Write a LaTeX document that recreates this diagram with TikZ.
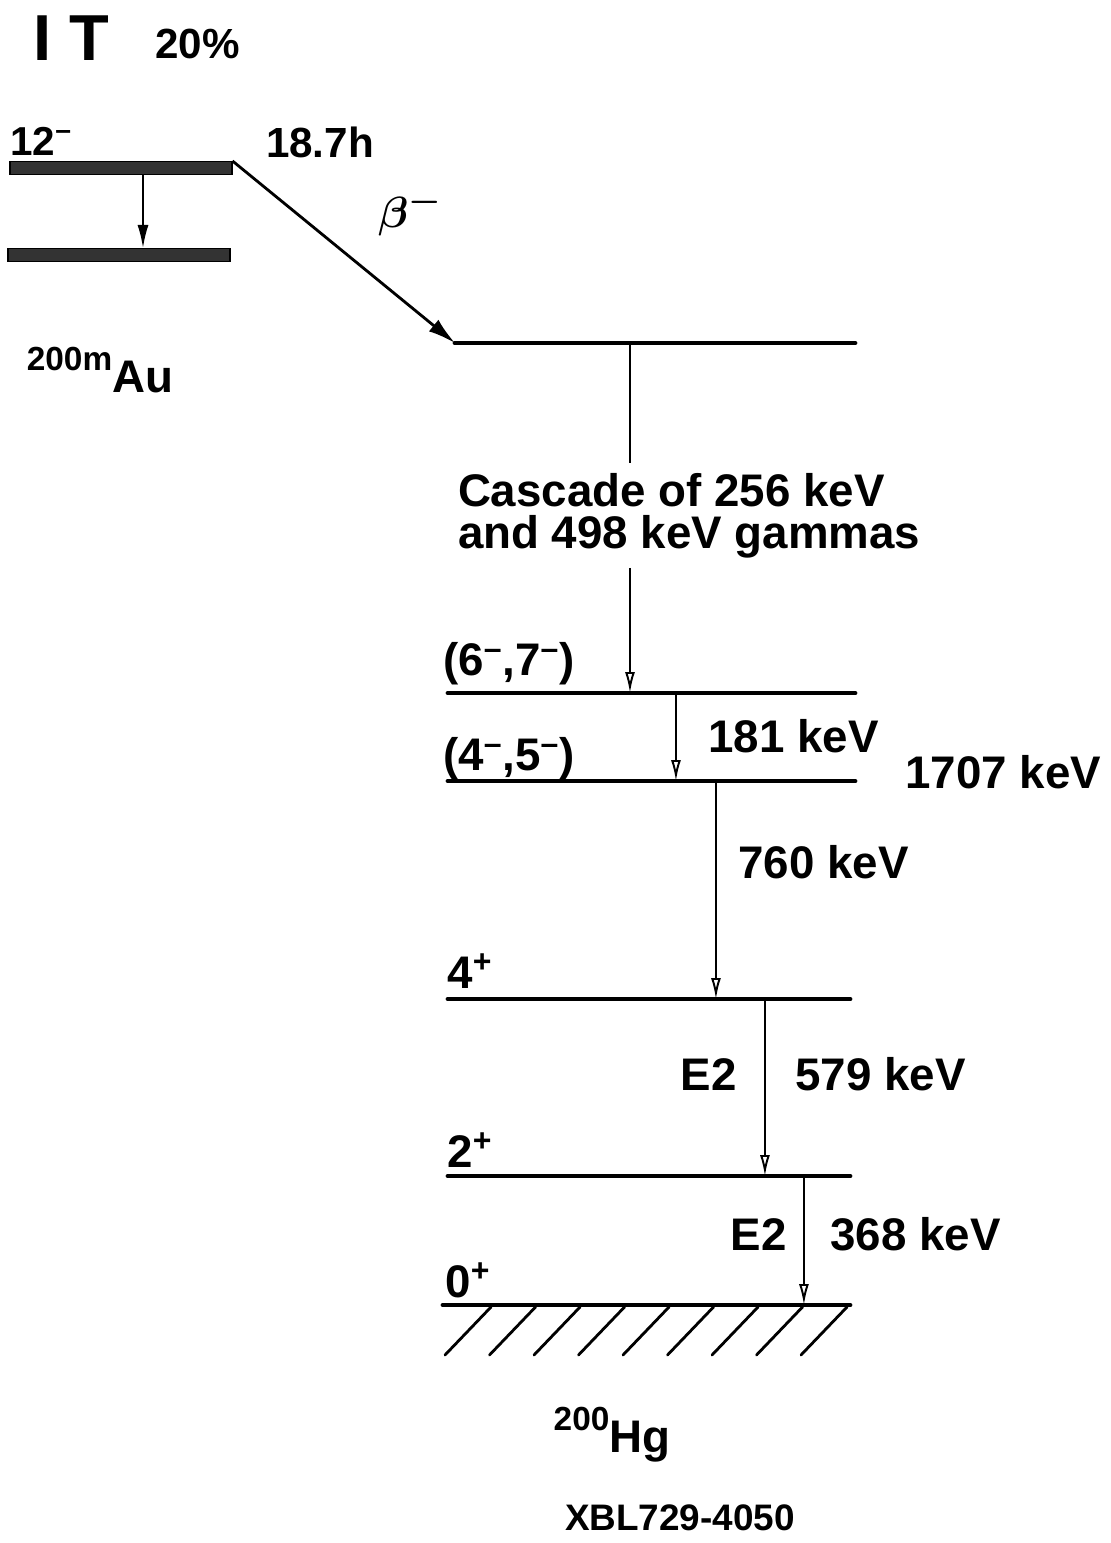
\documentclass[tikz,border=0pt]{standalone}
\usepackage{bm}
\usepackage{fontspec}
\setmainfont{Liberation Sans}
\usetikzlibrary{arrows.meta}

\begin{document}
\begin{tikzpicture}[x=0.02cm, y=-0.02cm,
      lev/.style={line width=2.8pt, line cap=round},
      aubar/.style={draw=black, fill=black!80, line width=0.6pt,
                    minimum width=4.44cm, minimum height=0.26cm, inner sep=0pt},
      gam/.style={line width=1.1pt, -{Latex[open, length=0.42cm, width=0.2cm]}},
      gamf/.style={line width=1.1pt, -{Latex[length=0.46cm, width=0.22cm]}},
      beta/.style={line width=1.6pt, -{Latex[length=0.55cm, width=0.3cm]}},
      hatch/.style={line width=1.6pt, line cap=round},
      lab/.style={font=\fontsize{26}{28}\selectfont\bfseries, inner sep=0pt},
      casc/.style={font=\fontsize{26}{24}\selectfont\bfseries, align=left, inner sep=5.5pt},
      small/.style={font=\fontsize{21}{24}\selectfont\bfseries, inner sep=0pt}
    ]
    \useasboundingbox (0,0) rectangle (1111,1543);
    % 200mAu side
    \node[lab, anchor=base west, font=\fontsize{37}{38}\selectfont\bfseries] (it) at (33,60) {I T};
    \node[lab, anchor=base west, font=\fontsize{24}{26}\selectfont\bfseries] (itpct) at (155,58) {20\%};
    \node[lab, anchor=base west, font=\fontsize{23}{26}\selectfont\bfseries] (spin12) at (10,155) {12\textsuperscript{–}};
    \node[lab, anchor=base, font=\fontsize{24}{26}\selectfont\bfseries] (halflife) at (320,157) {18.7h};
    \node[aubar] (au12) at (121,168) {};
    \node[aubar] (augs) at (119,255) {};
    \node[lab, anchor=base] (auname) at (100,392)
      {\raisebox{12pt}{\fontsize{19}{20}\selectfont\bfseries 200m}Au};
    \draw[gamf] ([xshift=0.44cm]au12.south) -- ([xshift=0.48cm]augs.north);
    % 200Hg levels
    \coordinate (hgA) at (455,343);
    \coordinate (hgB) at (448,693);
    \coordinate (hgC) at (448,781);
    \coordinate (hgD) at (448,999);
    \coordinate (hgE) at (448,1176);
    \coordinate (hgF) at (443,1305);
    \draw[lev] (hgA) -- ++(400,0);
    \draw[lev] (hgB) -- ++(407,0);
    \draw[lev] (hgC) -- ++(407,0);
    \draw[lev] (hgD) -- ++(402,0);
    \draw[lev] (hgE) -- ++(402,0);
    \draw[lev] (hgF) -- ++(407,0);
    \foreach \i in {0,...,8}
      \draw[hatch] (491+44.5*\i,1307) -- ++(-46,48);
    % beta feeding
    \draw[beta] (au12.north east) -- (hgA);
    \node[lab, font=\fontsize{32}{34}\selectfont] (beta) at (410,212) {$\bm{\beta}^{\bm{-}}$};
    % spins
    \node[lab, anchor=base west] (s67) at (443,675) {(6\textsuperscript{–},7\textsuperscript{–})};
    \node[lab, anchor=base west] (s45) at (443,770) {(4\textsuperscript{–},5\textsuperscript{–})};
    \node[lab, anchor=base west] (s4) at (447,988) {4\textsuperscript{+}};
    \node[lab, anchor=base west] (s2) at (447,1167) {2\textsuperscript{+}};
    \node[lab, anchor=base west] (s0) at (445,1297) {0\textsuperscript{+}};
    \node[lab, anchor=base west] (e1707) at (905,788) {1707 keV};
    % cascade A -> B
    \node[casc, anchor=north west] (casc) at (448,463)
      {Cascade of 256 keV\\and 498 keV gammas};
    \coordinate (tA) at ([xshift=3.5cm]hgA);
    \draw[line width=1.1pt] (tA) -- (tA |- casc.north);
    \draw[gam] (tA |- casc.south) -- (tA |- hgB);
    % B -> C
    \coordinate (tB) at ([xshift=4.56cm]hgB);
    \draw[gam] (tB) -- (tB |- hgC);
    \node[lab, anchor=base west] (g181) at (708,752) {181 keV};
    % C -> D
    \coordinate (tC) at ([xshift=5.36cm]hgC);
    \draw[gam] (tC) -- (tC |- hgD);
    \node[lab, anchor=base west] (g760) at (738,878) {760 keV};
    % D -> E
    \coordinate (tD) at ([xshift=6.34cm]hgD);
    \draw[gam] (tD) -- (tD |- hgE);
    \node[lab, anchor=base east] (m579) at (737,1090) {E2};
    \node[lab, anchor=base west] (g579) at (795,1090) {579 keV};
    % E -> F
    \coordinate (tE) at ([xshift=7.12cm]hgE);
    \draw[gam] (tE) -- (tE |- hgF);
    \node[lab, anchor=base east] (m368) at (787,1250) {E2};
    \node[lab, anchor=base west] (g368) at (830,1250) {368 keV};
    % labels below
    \node[lab, anchor=base] (hgname) at (612,1452)
      {\raisebox{12pt}{\fontsize{19}{20}\selectfont\bfseries 200}Hg};
    \node[small, anchor=base] (xbl) at (680,1530) {XBL729-4050};
  \end{tikzpicture}
\end{document}
